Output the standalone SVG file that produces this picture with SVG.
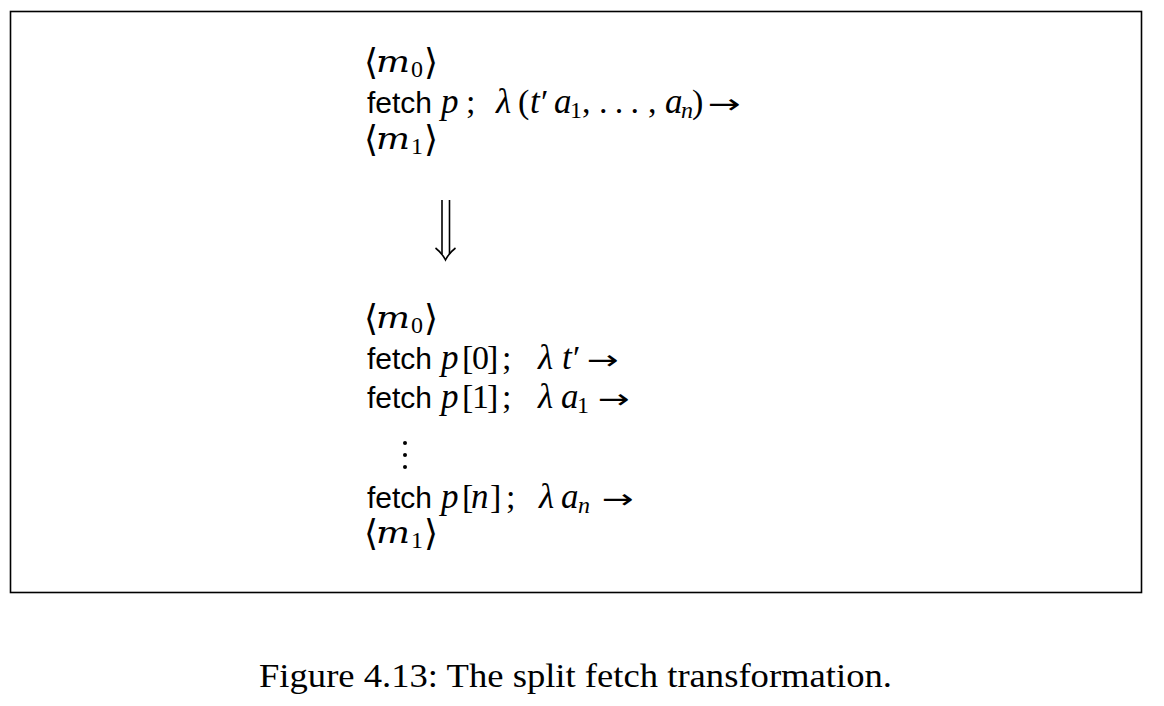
<svg xmlns="http://www.w3.org/2000/svg" width="1164" height="706" viewBox="0 0 1164 706">
<style>
.sf{font-family:"Liberation Sans",Arial,sans-serif;font-size:30px;fill:#000}
.it{font-family:"Liberation Serif",serif;font-style:italic;font-size:35px;fill:#000}
.im{font-family:"DejaVu Serif",serif;font-style:italic;font-size:30px;fill:#000}
.rm{font-family:"Liberation Serif",serif;font-size:34px;fill:#000}
.sub{font-family:"Liberation Serif",serif;font-size:24px;fill:#000}
.si{font-family:"Liberation Serif",serif;font-style:italic;font-size:24px;fill:#000}
.br{font-family:"DejaVu Serif",serif;font-size:36px;fill:#000}
.ar{font-family:"DejaVu Sans",sans-serif;font-size:27px;fill:#000}
.cap{font-family:"Liberation Serif",serif;font-size:33px;fill:#000}
</style>
<rect x="10.5" y="11.5" width="1131" height="581" fill="none" stroke="#000" stroke-width="1.6"/>
<g id="before">
<text class="br" x="364" y="74">⟨</text><text class="im" x="376" y="72" textLength="34" lengthAdjust="spacingAndGlyphs">m</text><text class="sub" x="411" y="77">0</text><text class="br" x="424" y="74">⟩</text>
<text class="sf" x="367" y="113">fetch</text>
<text class="it" x="441" y="113">p</text><text class="rm" x="466" y="113">;</text>
<text class="it" x="496" y="113">λ</text><text class="rm" x="518" y="113">(</text><text class="it" x="530" y="113">t</text><text class="rm" x="541" y="113">′</text>
<text class="it" x="554" y="113">a</text><text class="sub" x="570" y="118">1</text><text class="rm" x="582" y="113">,</text>
<text class="rm" x="599" y="113" textLength="40" lengthAdjust="spacing">...</text><text class="rm" x="648" y="113">,</text>
<text class="it" x="665" y="113">a</text><text class="si" x="681" y="118">n</text><text class="rm" x="692" y="113">)</text>
<text class="ar" x="708" y="113" textLength="33" lengthAdjust="spacingAndGlyphs">→</text>
<text class="br" x="364" y="151">⟨</text><text class="im" x="376" y="149" textLength="34" lengthAdjust="spacingAndGlyphs">m</text><text class="sub" x="411" y="154">1</text><text class="br" x="424" y="151">⟩</text>
</g>
<g id="implies" fill="none" stroke="#000" stroke-width="1.6">
<line x1="442" y1="200" x2="442" y2="254"/>
<line x1="449.5" y1="200" x2="449.5" y2="254"/>
<path d="M435.5 248 Q442 253 445.5 260 Q449 253 455.5 248"/>
</g>
<g id="after">
<text class="br" x="364" y="330">⟨</text><text class="im" x="376" y="328" textLength="34" lengthAdjust="spacingAndGlyphs">m</text><text class="sub" x="411" y="333">0</text><text class="br" x="424" y="330">⟩</text>
<text class="sf" x="367" y="369">fetch</text>
<text class="it" x="441" y="369">p</text><text class="rm" x="462" y="369">[</text><text class="rm" x="472" y="369">0</text><text class="rm" x="487" y="369">]</text><text class="rm" x="502" y="369">;</text>
<text class="it" x="538" y="369">λ</text><text class="it" x="562" y="369">t</text><text class="rm" x="573" y="369">′</text><text class="ar" x="587" y="369" textLength="32" lengthAdjust="spacingAndGlyphs">→</text>
<text class="sf" x="367" y="408">fetch</text>
<text class="it" x="441" y="408">p</text><text class="rm" x="462" y="408">[</text><text class="rm" x="472" y="408">1</text><text class="rm" x="487" y="408">]</text><text class="rm" x="502" y="408">;</text>
<text class="it" x="538" y="408">λ</text><text class="it" x="561" y="408">a</text><text class="sub" x="577" y="413">1</text><text class="ar" x="598" y="408" textLength="32" lengthAdjust="spacingAndGlyphs">→</text>
<circle cx="405" cy="443" r="2" fill="#000"/><circle cx="405" cy="455" r="2" fill="#000"/><circle cx="405" cy="467" r="2" fill="#000"/>
<text class="sf" x="367" y="508">fetch</text>
<text class="it" x="441" y="508">p</text><text class="rm" x="462" y="508">[</text><text class="it" x="471" y="508">n</text><text class="rm" x="490" y="508">]</text><text class="rm" x="506" y="508">;</text>
<text class="it" x="539" y="508">λ</text><text class="it" x="561" y="508">a</text><text class="si" x="578" y="513">n</text><text class="ar" x="602" y="508" textLength="32" lengthAdjust="spacingAndGlyphs">→</text>
<text class="br" x="364" y="545">⟨</text><text class="im" x="376" y="543" textLength="34" lengthAdjust="spacingAndGlyphs">m</text><text class="sub" x="411" y="548">1</text><text class="br" x="424" y="545">⟩</text>
</g>
<text id="caption" class="cap" x="259" y="687" textLength="633" lengthAdjust="spacingAndGlyphs">Figure 4.13: The split fetch transformation.</text>
</svg>
